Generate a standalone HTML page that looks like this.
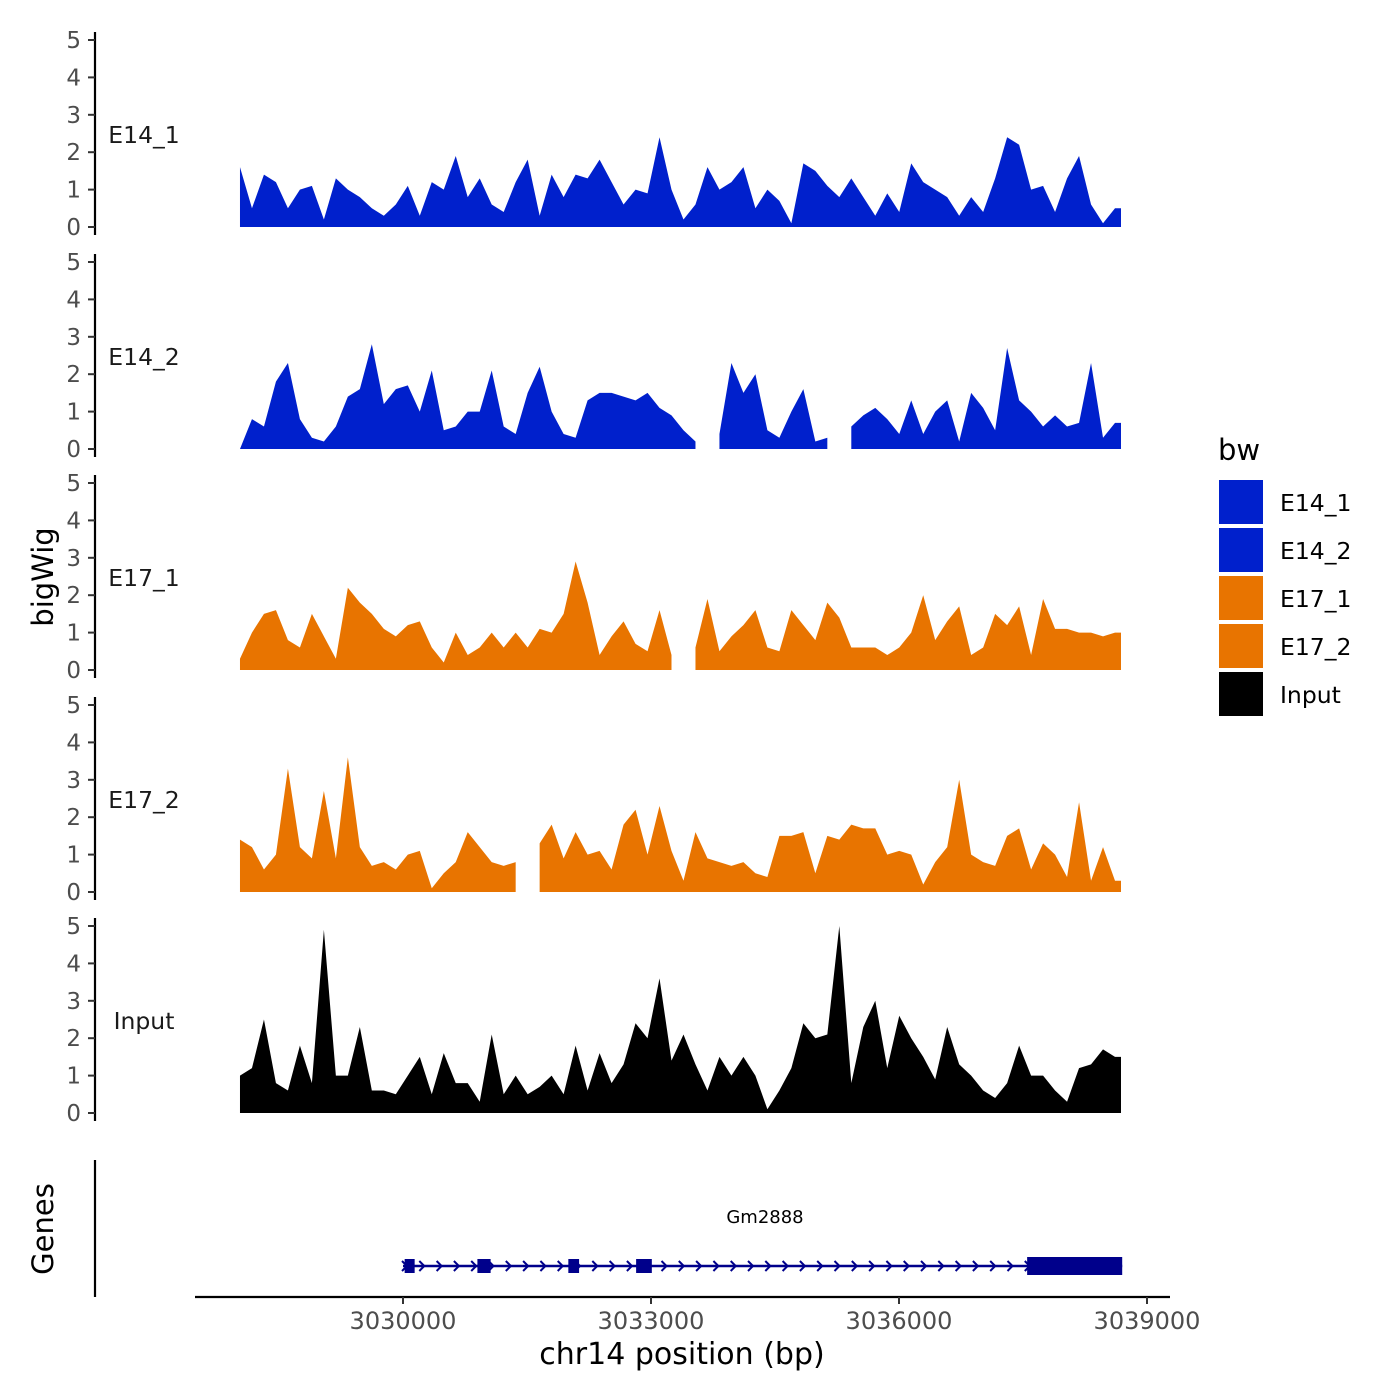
<!DOCTYPE html>
<html><head><meta charset="utf-8"><style>
body{margin:0;background:#fff}
svg{display:block;font-family:"DejaVu Sans","Liberation Sans",sans-serif}
</style></head><body>
<svg id="chart" width="1400" height="1400"></svg>
<script>
const trackNames = ["E14_1","E14_2","E17_1","E17_2","Input"];
const trackColors = ["#0020CC","#0020CC","#E87400","#E87400","#000000"];
const e14_1 = [1.6,0.5,1.4,1.2,0.5,1.0,1.1,0.2,1.3,1.0,0.8,0.5,0.3,0.6,1.1,0.3,1.2,1.0,1.9,0.8,1.3,0.6,0.4,1.2,1.8,0.3,1.4,0.8,1.4,1.3,1.8,1.2,0.6,1.0,0.9,2.4,1.0,0.2,0.6,1.6,1.0,1.2,1.6,0.5,1.0,0.7,0.1,1.7,1.5,1.1,0.8,1.3,0.8,0.3,0.9,0.4,1.7,1.2,1.0,0.8,0.3,0.8,0.4,1.3,2.4,2.2,1.0,1.1,0.4,1.3,1.9,0.6,0.1,0.5];
const e14_2 = [0,0.8,0.6,1.8,2.3,0.8,0.3,0.2,0.6,1.4,1.6,2.8,1.2,1.6,1.7,1.0,2.1,0.5,0.6,1.0,1.0,2.1,0.6,0.4,1.5,2.2,1.0,0.4,0.3,1.3,1.5,1.5,1.4,1.3,1.5,1.1,0.9,0.5,0.2,null,0.4,2.3,1.5,2.0,0.5,0.3,1.0,1.6,0.2,0.3,null,0.6,0.9,1.1,0.8,0.4,1.3,0.4,1.0,1.3,0.2,1.5,1.1,0.5,2.7,1.3,1.0,0.6,0.9,0.6,0.7,2.3,0.3,0.7];
const e17_1 = [0.3,1.0,1.5,1.6,0.8,0.6,1.5,0.9,0.3,2.2,1.8,1.5,1.1,0.9,1.2,1.3,0.6,0.2,1.0,0.4,0.6,1.0,0.6,1.0,0.6,1.1,1.0,1.5,2.9,1.8,0.4,0.9,1.3,0.7,0.5,1.6,0.4,null,0.6,1.9,0.5,0.9,1.2,1.6,0.6,0.5,1.6,1.2,0.8,1.8,1.4,0.6,0.6,0.6,0.4,0.6,1.0,2.0,0.8,1.3,1.7,0.4,0.6,1.5,1.2,1.7,0.4,1.9,1.1,1.1,1.0,1.0,0.9,1.0];
const e17_2 = [1.4,1.2,0.6,1.0,3.3,1.2,0.9,2.7,0.9,3.6,1.2,0.7,0.8,0.6,1.0,1.1,0.1,0.5,0.8,1.6,1.2,0.8,0.7,0.8,null,1.3,1.8,0.9,1.6,1.0,1.1,0.6,1.8,2.2,1.0,2.3,1.1,0.3,1.6,0.9,0.8,0.7,0.8,0.5,0.4,1.5,1.5,1.6,0.5,1.5,1.4,1.8,1.7,1.7,1.0,1.1,1.0,0.2,0.8,1.2,3.0,1.0,0.8,0.7,1.5,1.7,0.6,1.3,1.0,0.4,2.4,0.3,1.2,0.3];
const input = [1.0,1.2,2.5,0.8,0.6,1.8,0.8,4.9,1.0,1.0,2.3,0.6,0.6,0.5,1.0,1.5,0.5,1.6,0.8,0.8,0.3,2.1,0.5,1.0,0.5,0.7,1.0,0.5,1.8,0.6,1.6,0.8,1.3,2.4,2.0,3.6,1.4,2.1,1.3,0.6,1.5,1.0,1.5,1.0,0.1,0.6,1.2,2.4,2.0,2.1,5.0,0.8,2.3,3.0,1.2,2.6,2.0,1.5,0.9,2.3,1.3,1.0,0.6,0.4,0.8,1.8,1.0,1.0,0.6,0.3,1.2,1.3,1.7,1.5];
const seriesList = [e14_1,e14_2,e17_1,e17_2,input];
const startBp = 3028028, stepBp = 145;
const yTicks = [0,1,2,3,4,5];
const xTicks = [3030000,3033000,3036000,3039000];
const xTickLabels = ["3030000","3033000","3036000","3039000"];
const exonStarts = [3030020,3030900,3032000,3032820,3037550];
const exonEnds = [3030140,3031060,3032130,3033010,3038700];
const geneStart = 3030000, geneEnd = 3038700;

const NS="http://www.w3.org/2000/svg";
const svg=document.getElementById('chart');
function mk(tag,attrs,parent){const e=document.createElementNS(NS,tag);for(const k in attrs)e.setAttribute(k,attrs[k]);(parent||svg).appendChild(e);return e;}
const xScale = bp => 403 + (bp-3030000)*(248/3000);
const baselines=[227,449,670,892,1113];
const unit=37.4;

seriesList.forEach((vals,t)=>{
  const g=mk('g',{});
  
  
  const b=baselines[t];
  const y=v=>b-v*unit;
  const ax=mk('line',{x1:95,x2:95,y1:b-5*unit-8,y2:b+8,stroke:'#000','stroke-width':2.2},g);
  
  
  yTicks.forEach(v=>{
    mk('line',{x1:88,x2:95,y1:y(v),y2:y(v),stroke:'#333','stroke-width':2},g);
    const tx=mk('text',{x:81,y:y(v)+8,'text-anchor':'end','font-size':23,fill:'#4d4d4d'},g);
    tx.textContent=v;
    
    
  });
  const lb=mk('text',{x:144,y:b-84,'text-anchor':'middle','font-size':23.5,fill:'#1a1a1a'},g);
  lb.textContent=trackNames[t];
  
  
  let segs=[],cur=[];
  vals.forEach((v,i)=>{
    if(v===null){if(cur.length)segs.push(cur);cur=[];}
    else cur.push([xScale(startBp+i*stepBp),y(v)]);
  });
  if(cur.length){cur.push([xScale(startBp+vals.length*stepBp)-6,y(vals[vals.length-1])]);segs.push(cur);}
  segs.forEach(s=>{
    let d='M'+s[0][0]+','+b;
    s.forEach(p=>d+='L'+p[0]+','+p[1]);
    d+='L'+s[s.length-1][0]+','+b+'Z';
    const p=mk('path',{d:d,fill:trackColors[t]},g);
    
    
  });
});

const yt=mk('text',{x:0,y:0,transform:'translate(53,577) rotate(-90)','text-anchor':'middle','font-size':29,fill:'#000'});
yt.textContent='bigWig';



const gg=mk('g',{});


mk('line',{x1:95,x2:95,y1:1160,y2:1297,stroke:'#000','stroke-width':2.2},gg);
const gt=mk('text',{x:0,y:0,transform:'translate(53,1229) rotate(-90)','text-anchor':'middle','font-size':29,fill:'#000'},gg);
gt.textContent='Genes';


const gy=1266;
mk('line',{x1:xScale(geneStart),x2:xScale(geneEnd),y1:gy,y2:gy,stroke:'#00008B','stroke-width':2.5},gg);
for(let x=xScale(geneStart)+2;x<xScale(geneEnd);x+=17.3){
  mk('path',{d:`M${x-3},${gy-5}L${x+2},${gy}L${x-3},${gy+5}`,fill:'none',stroke:'#00008B','stroke-width':2},gg);
}
exonStarts.forEach((s,i)=>{
  const big=(exonEnds[i]-s)>500;
  const h=big?18:14;
  const r=mk('rect',{x:xScale(s),y:gy-h/2,width:Math.max(10,xScale(exonEnds[i])-xScale(s)),height:h,fill:'#00008B'},gg);
  
  
});
const gn=mk('text',{x:765,y:1223,'text-anchor':'middle','font-size':18,fill:'#000'},gg);
gn.textContent='Gm2888';



const xa=mk('line',{x1:195,x2:1170,y1:1297,y2:1297,stroke:'#000','stroke-width':2.2});


xTicks.forEach((v,i)=>{
  mk('line',{x1:xScale(v),x2:xScale(v),y1:1297,y2:1304,stroke:'#333','stroke-width':2});
  const t=mk('text',{x:xScale(v),y:1329,'text-anchor':'middle','font-size':24,fill:'#4d4d4d'});
  t.textContent=xTickLabels[i];
  
  
});
const xt=mk('text',{x:682,y:1364,'text-anchor':'middle','font-size':30,fill:'#000'});
xt.textContent='chr14 position (bp)';



const lg=mk('g',{});


const lt=mk('text',{x:1218,y:460,'font-size':29,fill:'#000'},lg);
lt.textContent='bw';


trackNames.forEach((n,i)=>{
  const e=mk('g',{},lg);
  
  
  mk('rect',{x:1219,y:480+i*48,width:44,height:44,fill:trackColors[i]},e);
  const t=mk('text',{x:1280,y:511+i*48,'font-size':23.5,fill:'#000'},e);
  t.textContent=n;
});
</script>
</body></html>
